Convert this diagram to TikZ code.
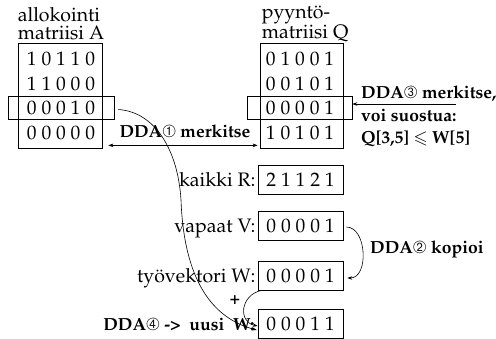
\documentclass[tikz,border=0pt]{standalone}
\usepackage[T1]{fontenc}
\usepackage{mathpazo}
\usepackage{amssymb}
\usepackage{pifont}
\usetikzlibrary{arrows.meta}

\tikzset{
  frame/.style={draw, line width=0.7pt, inner sep=0pt},
  vec/.style={frame, minimum width=85pt, minimum height=29pt,
    font=\fontsize{19.5}{22}\selectfont},
  digits/.style={inner sep=0pt, font=\fontsize{19.5}{22}\selectfont},
  title/.style={inner sep=0pt, align=left, font=\fontsize{19.5}{18}\selectfont},
  tag/.style={inner sep=0pt, font=\fontsize{19.5}{22}\selectfont},
  note/.style={inner sep=0pt, font=\bfseries\fontsize{17.5}{21}\selectfont},
  conn/.style={line width=0.6pt},
  tip/.style={-{Stealth[length=5pt,width=3.5pt]}},
  tips/.style={{Stealth[length=5pt,width=3.5pt]}-{Stealth[length=5pt,width=3.5pt]}},
}

\begin{document}
\begin{tikzpicture}[x=1pt,y=-1pt]
\useasboundingbox (0,0) rectangle (496,339);

% allocation matrix A
\node[frame, minimum width=84pt, minimum height=105pt] (A) at (60,95.5) {};
\node[title, anchor=south west] (At) at ([yshift=2.5pt]A.north west) {allokointi\\matriisi A};
\node[digits] (a1) at (61,59) {1 0 1 1 0};
\node[digits] (a2) at (61,83.7) {1 1 0 0 0};
\node[digits] (a3) at (61,108.4) {0 0 0 1 0};
\node[digits] (a4) at (61,133.1) {0 0 0 0 0};
\node[frame, minimum width=106pt, minimum height=23pt] (Ahl) at (61,107.5) {};

% request matrix Q
\node[frame, minimum width=83pt, minimum height=105pt] (Q) at (301.5,95.5) {};
\node[title, anchor=south west] (Qt) at ([xshift=2pt,yshift=0.5pt]Q.north west) {pyynt\"o-\\matriisi Q};
\node[digits] (q1) at (300,59) {0 1 0 0 1};
\node[digits] (q2) at (300,83.7) {0 0 1 0 1};
\node[digits] (q3) at (300,108.4) {0 0 0 0 1};
\node[digits] (q4) at (300,133.1) {1 0 1 0 1};
\node[frame, minimum width=105pt, minimum height=23pt] (Qhl) at (299.5,107.5) {};

% vectors
\node[vec] (R) at (300.5,179.5) {2 1 1 2 1};
\node[vec] (V) at (300.5,225.5) {0 0 0 0 1};
\node[vec] (W) at (300.5,275.5) {0 0 0 0 1};
\node[vec] (nW) at (300.5,323.5) {0 0 0 1 1};
\node[tag, anchor=base east] (Rl) at ([xshift=-2pt]R.base west) {kaikki R:};
\node[tag, anchor=base east] (Vl) at ([xshift=-2pt]V.base west) {vapaat V:};
\node[tag, anchor=base east] (Wl) at ([xshift=-2pt]W.base west) {ty\"ovektori W:};
\node[note, anchor=base east] (nWl) at ([xshift=-3pt]nW.base west) {DDA\ding{195} ->\ \ uusi\ \ W:};

% step 1: mark rows of A that are all zero
\node[note, anchor=base] (s1) at (185,138) {DDA\ding{192} merkitse};
\draw[conn, tips] ([xshift=6pt,yshift=3pt]A.south east) -- ([xshift=-2pt,yshift=3pt]Q.south west);

% step 2: copy V into W
\node[note, anchor=base west] (s2) at (370,254) {DDA\ding{193} kopioi};
\draw[conn, tip] ([xshift=3pt,yshift=-1.5pt]V.east) .. controls (367,227) and (369,278) .. ([xshift=4pt,yshift=-2.5pt]W.east);

% step 3: row of Q that can be granted
\node[note, anchor=north west, align=left] (s3) at (361,86) {DDA\ding{194} merkitse,\\[2pt]voi suostua:\\[1pt]Q[3,5] {\boldmath$\leqslant$} W[5]};
\coordinate (s3end) at (456,104);
\draw[conn, tip] (s3end) -- (Qhl.east |- s3end);

% step 4: new work vector
\node[note] (plus) at (235,300) {+};
\draw[conn, tip] ([xshift=4pt]W.south west) .. controls (240,295) and (238,322) .. ([yshift=-2.5pt]nW.west);
\coordinate (bend) at (181,200);
\draw[conn, tip] ([xshift=4pt,yshift=-2pt]Ahl.east) .. controls (155,112) and (178,150) .. (bend)
  .. controls (184,280) and (212,318) .. ([xshift=-1pt,yshift=-6.5pt]nW.west);
\end{tikzpicture}
\end{document}
